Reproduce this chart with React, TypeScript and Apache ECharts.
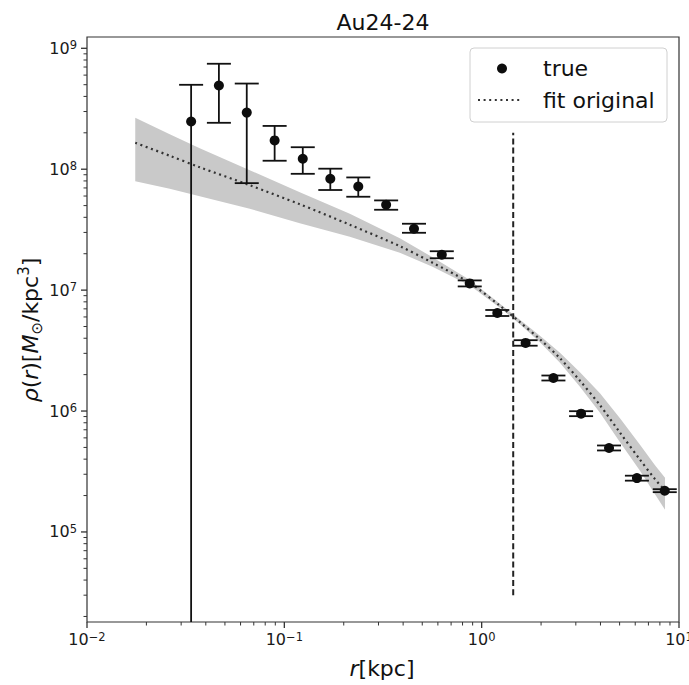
import React, { useEffect, useRef } from 'react';
import * as echarts from 'echarts';

// ---- data ----
const R_TRUE = [0.0337, 0.0466, 0.0645, 0.0893, 0.124, 0.171, 0.237, 0.328, 0.454, 0.628, 0.870, 1.20, 1.67, 2.31, 3.19, 4.42, 6.12, 8.47];
const RHO_TRUE = [2.48e8, 4.92e8, 2.94e8, 1.73e8, 1.22e8, 8.34e7, 7.20e7, 5.08e7, 3.22e7, 1.96e7, 1.136e7, 6.47e6, 3.66e6, 1.876e6, 9.51e5, 4.95e5, 2.79e5, 2.19e5];
const RHO_ERR_LOW = [1e2, 2.42e8, 7.67e7, 1.175e8, 9.16e7, 6.73e7, 5.92e7, 4.62e7, 2.98e7, 1.835e7, 1.073e7, 6.11e6, 3.47e6, 1.789e6, 9.07e5, 4.72e5, 2.656e5, 2.133e5];
const RHO_ERR_HIGH = [4.99e8, 7.45e8, 5.11e8, 2.28e8, 1.52e8, 1.01e8, 8.55e7, 5.52e7, 3.54e7, 2.097e7, 1.203e7, 6.85e6, 3.854e6, 1.967e6, 9.97e5, 5.19e5, 2.92e5, 2.258e5];

const R_FIT = [0.01756, 0.02626, 0.03727, 0.06681, 0.1198, 0.2147, 0.3849, 0.5636, 0.8717, 1.2374, 1.563, 1.974, 2.493, 3.148, 3.977, 5.023, 6.343, 7.557, 8.495];
const RHO_FIT = [1.655e8, 1.292e8, 1.038e8, 7.37e7, 5.13e7, 3.474e7, 2.307e7, 1.685e7, 1.145e7, 7.43e6, 5.43e6, 3.926e6, 2.735e6, 1.782e6, 1.118e6, 6.622e5, 3.961e5, 2.732e5, 2.195e5];
const RHO_BAND_HI = [2.663e8, 1.946e8, 1.491e8, 9.806e7, 6.447e7, 4.283e7, 2.687e7, 1.871e7, 1.212e7, 7.718e6, 5.695e6, 4.197e6, 3.037e6, 2.095e6, 1.405e6, 8.728e5, 5.270e5, 3.567e5, 2.811e5];
const RHO_BAND_LO = [7.952e7, 6.893e7, 5.975e7, 4.711e7, 3.572e7, 2.764e7, 2.038e7, 1.561e7, 1.092e7, 7.153e6, 5.227e6, 3.708e6, 2.511e6, 1.590e6, 9.692e5, 5.526e5, 3.212e5, 2.053e5, 1.529e5];

const R_CUT = 1.445;
const RHO_CUT = [3.0e4, 2.0e8];

const X_MIN = 0.01;
const X_MAX = 10;
const Y_MIN = 1.8e4;
const Y_MAX = 1.24e9;

const X_MAJOR = [0.01, 0.1, 1, 10];
const X_MAJOR_EXP = ['\u22122', '\u22121', '0', '1'];
const Y_MAJOR = [1e5, 1e6, 1e7, 1e8, 1e9];
const Y_MAJOR_EXP = ['5', '6', '7', '8', '9'];
const MINOR_MULT = [2, 3, 4, 5, 6, 7, 8, 9];
const X_DECADES = [0.01, 0.1, 1];
const Y_DECADES = [1e4, 1e5, 1e6, 1e7, 1e8, 1e9];

const TITLE = 'Au24-24';
const LEGEND_TRUE = 'true';
const LEGEND_FIT = 'fit original';

const FONT = "'DejaVu Sans', 'Noto Sans', sans-serif";
const INK = '#1a1a1a';

export default function App() {
  const ref = useRef<HTMLDivElement>(null);

  useEffect(() => {
    if (!ref.current) return;
    const chart = echarts.init(ref.current, undefined, { renderer: 'svg' });

    const xMinor: number[] = [];
    X_DECADES.forEach((d) => MINOR_MULT.forEach((m) => xMinor.push(d * m)));
    const yMinor: number[] = [];
    Y_DECADES.forEach((d) => MINOR_MULT.forEach((m) => {
      const v = d * m;
      if (v > Y_MIN && v < Y_MAX) yMinor.push(v);
    }));

    const tickRich = {
      b: { fontSize: 16, lineHeight: 18, fontFamily: FONT },
      e: { fontSize: 11.5, lineHeight: 9, verticalAlign: 'top', fontFamily: FONT },
    };

    const option: any = {
      animation: false,
      backgroundColor: '#ffffff',
      grid: {
        left: 87, top: 37, width: 592, height: 585,
        show: true, borderColor: '#333', borderWidth: 1.2, backgroundColor: 'transparent',
      },
      xAxis: {
        type: 'log', logBase: 10, min: X_MIN, max: X_MAX,
        axisLine: { show: false }, axisTick: { show: false }, axisLabel: { show: false },
        splitLine: { show: false }, minorTick: { show: false },
      },
      yAxis: {
        type: 'log', logBase: 10, min: Y_MIN, max: Y_MAX,
        axisLine: { show: false }, axisTick: { show: false }, axisLabel: { show: false },
        splitLine: { show: false }, minorTick: { show: false },
      },
      series: [
        {
          type: 'custom',
          name: 'band',
          silent: true,
          z: 1,
          data: [[R_FIT[0], RHO_FIT[0]]],
          renderItem: (params: any, api: any) => {
            const upper = R_FIT.map((r, i) => api.coord([r, RHO_BAND_HI[i]]));
            const lower = R_FIT.map((r, i) => api.coord([r, RHO_BAND_LO[i]])).reverse();
            return {
              type: 'polygon',
              shape: { points: upper.concat(lower) },
              style: { fill: '#c9c9c9', stroke: 'none' },
            };
          },
        },
        {
          type: 'line',
          name: LEGEND_FIT,
          z: 2,
          data: R_FIT.map((r, i) => [r, RHO_FIT[i]]),
          showSymbol: false,
          symbol: 'none',
          smooth: 0.3,
          lineStyle: { color: '#333', width: 2.2, type: [2, 3.6] },
          silent: true,
        },
        {
          type: 'line',
          name: 'cut',
          z: 3,
          data: [[R_CUT, RHO_CUT[0]], [R_CUT, RHO_CUT[1]]],
          showSymbol: false,
          symbol: 'none',
          lineStyle: { color: '#222', width: 2, type: [6, 3.2] },
          silent: true,
        },
        {
          type: 'custom',
          name: 'errors',
          z: 4,
          silent: true,
          data: R_TRUE.map((r, i) => [r, RHO_TRUE[i], RHO_ERR_LOW[i], RHO_ERR_HIGH[i]]),
          encode: { x: 0, y: 1 },
          renderItem: (params: any, api: any) => {
            const x = api.value(0);
            const lo = api.value(2);
            const hi = api.value(3);
            const cs = params.coordSys;
            const bottom = cs.y + cs.height;
            const pTop = api.coord([x, hi]);
            const pBot = api.coord([x, lo]);
            const clipped = pBot[1] > bottom;
            const yb = Math.min(pBot[1], bottom);
            const cap = 12;
            const style = { stroke: '#111', lineWidth: 1.8 };
            const children: any[] = [
              { type: 'line', shape: { x1: pTop[0], y1: pTop[1], x2: pTop[0], y2: yb }, style },
              { type: 'line', shape: { x1: pTop[0] - cap, y1: pTop[1], x2: pTop[0] + cap, y2: pTop[1] }, style },
            ];
            if (!clipped) {
              children.push({ type: 'line', shape: { x1: pTop[0] - cap, y1: yb, x2: pTop[0] + cap, y2: yb }, style });
            }
            return { type: 'group', children };
          },
        },
        {
          type: 'scatter',
          name: LEGEND_TRUE,
          z: 5,
          data: R_TRUE.map((r, i) => [r, RHO_TRUE[i]]),
          symbol: 'circle',
          symbolSize: 10,
          itemStyle: { color: '#0d0d0d', opacity: 1 },
          silent: true,
        },
        {
          type: 'custom',
          name: 'axes',
          z: 6,
          silent: true,
          data: [[X_MIN, Y_MIN]],
          renderItem: (params: any, api: any) => {
            const cs = params.coordSys;
            const left = cs.x;
            const bottom = cs.y + cs.height;
            const children: any[] = [];
            const major = { stroke: '#333', lineWidth: 1.3 };
            const minor = { stroke: '#333', lineWidth: 1 };
            X_MAJOR.forEach((v, i) => {
              const px = api.coord([v, Y_MIN])[0];
              children.push({ type: 'line', shape: { x1: px, y1: bottom, x2: px, y2: bottom + 6 }, style: major });
              children.push({
                type: 'text', x: px, y: bottom + 8.5,
                style: {
                  text: `{b|10}{e|${X_MAJOR_EXP[i]}}`, rich: tickRich, fill: INK,
                  font: `16px ${FONT}`, align: 'center', verticalAlign: 'top',
                },
              });
            });
            xMinor.forEach((v) => {
              const px = api.coord([v, Y_MIN])[0];
              children.push({ type: 'line', shape: { x1: px, y1: bottom, x2: px, y2: bottom + 3.5 }, style: minor });
            });
            Y_MAJOR.forEach((v, i) => {
              const py = api.coord([X_MIN, v])[1];
              children.push({ type: 'line', shape: { x1: left - 6, y1: py, x2: left, y2: py }, style: major });
              children.push({
                type: 'text', x: left - 10, y: py,
                style: {
                  text: `{b|10}{e|${Y_MAJOR_EXP[i]}}`, rich: tickRich, fill: INK,
                  font: `16px ${FONT}`, align: 'right', verticalAlign: 'middle',
                },
              });
            });
            yMinor.forEach((v) => {
              const py = api.coord([X_MIN, v])[1];
              children.push({ type: 'line', shape: { x1: left - 3.5, y1: py, x2: left, y2: py }, style: minor });
            });
            return { type: 'group', children };
          },
        },
      ],
      graphic: [
        {
          type: 'text', x: 383, y: 22, z: 10,
          style: {
            text: TITLE, font: `22px ${FONT}`, fill: '#111',
            align: 'center', verticalAlign: 'middle', textAlign: 'center', textVerticalAlign: 'middle',
          },
        },
        {
          type: 'text', x: 382, y: 668, z: 10,
          style: {
            text: '{i|r}[kpc]', font: `22px ${FONT}`, fill: '#111',
            rich: { i: { fontStyle: 'italic', fontSize: 22, fontFamily: FONT } },
            align: 'center', verticalAlign: 'middle', textAlign: 'center', textVerticalAlign: 'middle',
          },
        },
        {
          type: 'text', x: 30, y: 330, z: 10, rotation: Math.PI / 2,
          style: {
            text: '{i|\u03c1}({i|r})[{i|M}{sub|\u2299}/kpc{sup|3}]',
            font: `22px ${FONT}`, fill: '#111', lineHeight: 28,
            rich: {
              i: { fontStyle: 'italic', fontSize: 22, lineHeight: 28, fontFamily: FONT },
              sub: { fontSize: 15, lineHeight: 12, verticalAlign: 'bottom', fontFamily: FONT },
              sup: { fontSize: 15, lineHeight: 12, verticalAlign: 'top', fontFamily: FONT },
            },
            align: 'center', verticalAlign: 'middle', textAlign: 'center', textVerticalAlign: 'middle',
          },
        },
        {
          type: 'group', z: 20,
          children: [
            {
              type: 'rect', shape: { x: 470, y: 48, width: 197, height: 74, r: 4 },
              style: { fill: 'rgba(255,255,255,0.85)', stroke: '#d0d0d0', lineWidth: 1 },
            },
            { type: 'circle', shape: { cx: 502, cy: 68.5, r: 5 }, style: { fill: '#0d0d0d' } },
            {
              type: 'text', x: 543, y: 68.5,
              style: {
                text: LEGEND_TRUE, font: `22px ${FONT}`, fill: '#111',
                align: 'left', verticalAlign: 'middle', textAlign: 'left', textVerticalAlign: 'middle',
              },
            },
            {
              type: 'line', shape: { x1: 478, y1: 100, x2: 522, y2: 100 },
              style: { stroke: '#333', lineWidth: 2.2, lineDash: [2, 3.6] },
            },
            {
              type: 'text', x: 543, y: 100,
              style: {
                text: LEGEND_FIT, font: `22px ${FONT}`, fill: '#111',
                align: 'left', verticalAlign: 'middle', textAlign: 'left', textVerticalAlign: 'middle',
              },
            },
          ],
        },
      ],
    };

    chart.setOption(option);
    return () => chart.dispose();
  }, []);

  return (
    <div
      ref={ref}
      style={{ position: 'fixed', left: 0, top: 0, width: 689, height: 685, background: '#fff' }}
    />
  );
}
